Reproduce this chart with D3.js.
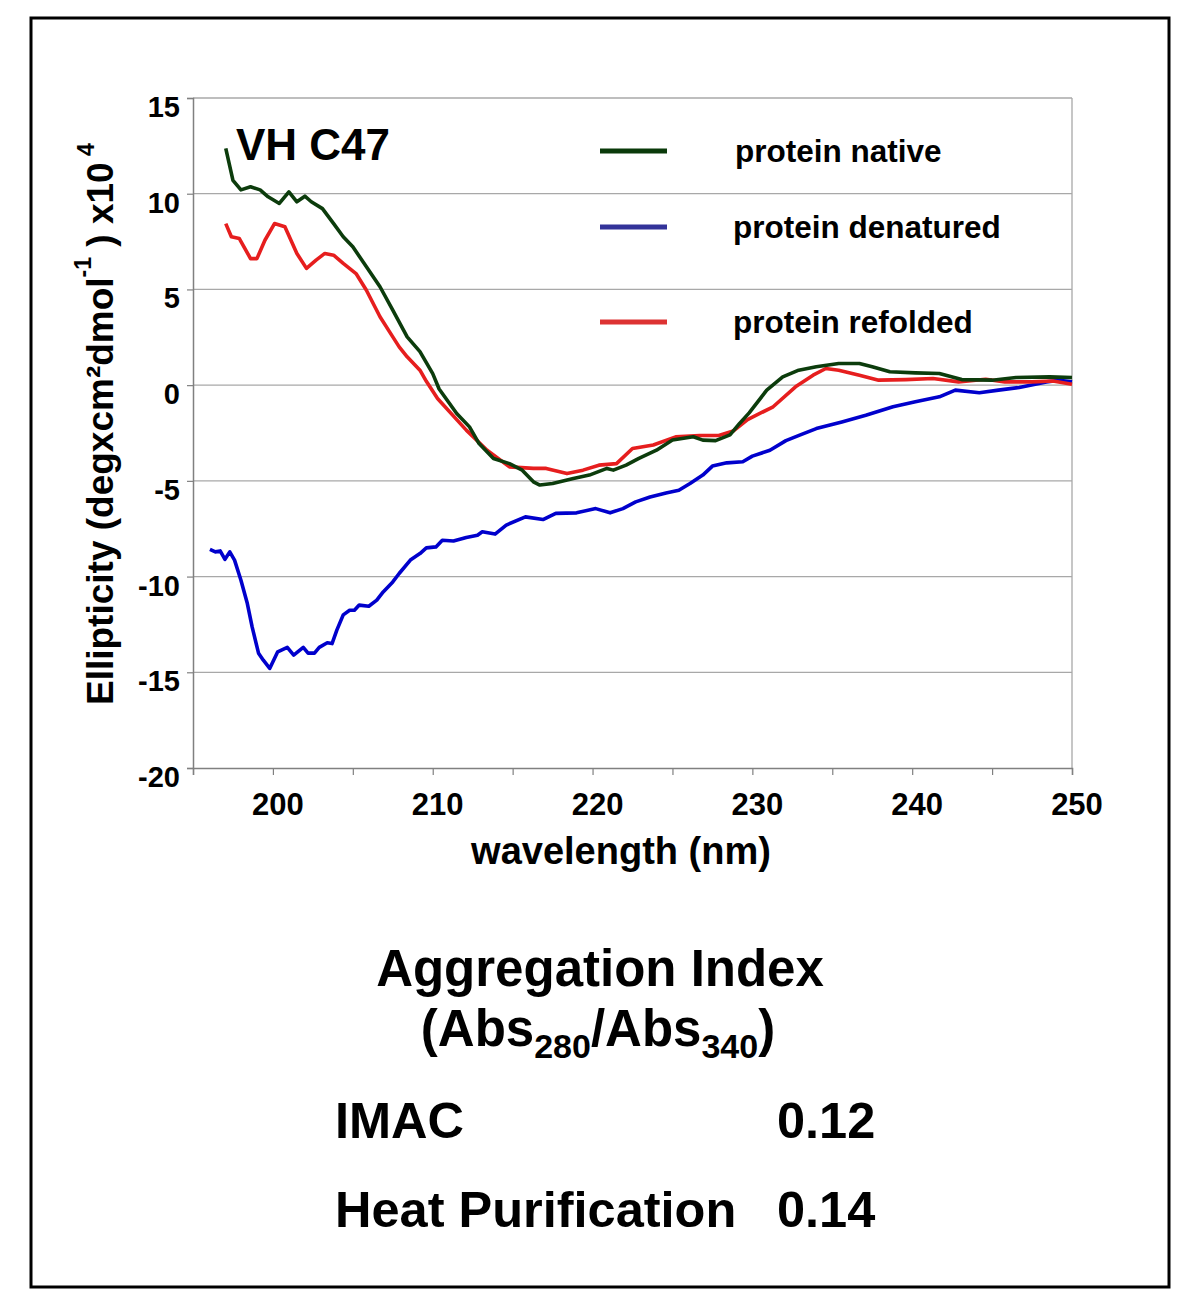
<!DOCTYPE html>
<html>
<head>
<meta charset="utf-8">
<script src="https://cdn.jsdelivr.net/npm/d3@7"></script>
<style>
  body { margin: 0; background: white; }
  svg text { font-family: "Liberation Sans", Arial, sans-serif; font-weight: bold; fill: black; }
</style>
</head>
<body>
<svg id="chart"></svg>
<script>
// wavelength (nm) / ellipticity (x10^4)
const nativeNm = [197.05, 197.5, 198.0, 198.6, 199.2, 199.7, 200.4, 201.0, 201.5, 202.0, 202.4, 203.1, 203.8, 204.4, 205.0, 205.85, 206.7, 207.5, 208.4, 209.2, 210.0, 210.4, 211.5, 212.3, 212.9, 213.8, 214.8, 215.6, 216.3, 216.7, 217.5, 218.8, 219.8, 220.9, 221.3, 222.1, 222.9, 224.0, 225.0, 226.3, 226.9, 227.7, 228.6, 229.2, 229.8, 230.9, 231.9, 232.9, 234.0, 235.4, 236.7, 237.5, 238.6, 240.2, 241.7, 243.1, 245.0, 246.5, 248.6, 250.0]
const nativeVal = [12.37, 10.7, 10.2, 10.36, 10.2, 9.84, 9.49, 10.1, 9.58, 9.87, 9.58, 9.22, 8.44, 7.75, 7.23, 6.18, 5.14, 3.92, 2.52, 1.75, 0.6, -0.2, -1.48, -2.18, -3.05, -3.83, -4.1, -4.44, -5.05, -5.22, -5.14, -4.88, -4.7, -4.35, -4.44, -4.18, -3.83, -3.4, -2.87, -2.7, -2.87, -2.9, -2.6, -2.0, -1.45, -0.26, 0.43, 0.78, 0.96, 1.13, 1.13, 0.96, 0.7, 0.64, 0.61, 0.29, 0.26, 0.4, 0.43, 0.4]

const denatNm = [196.06, 196.4, 196.7, 197.0, 197.3, 197.6, 198.0, 198.4, 198.7, 199.1, 199.4, 199.8, 200.3, 200.9, 201.3, 201.9, 202.2, 202.6, 202.9, 203.4, 203.7, 204.0, 204.4, 204.8, 205.1, 205.4, 206.0, 206.5, 206.9, 207.5, 207.9, 208.6, 209.2, 209.6, 210.2, 210.6, 211.3, 212.1, 212.8, 213.1, 213.9, 214.6, 215.8, 216.9, 217.7, 219.0, 220.2, 221.1, 221.9, 222.7, 223.6, 224.6, 225.4, 226.1, 226.9, 227.5, 228.4, 229.4, 230.0, 231.1, 232.1, 233.0, 234.0, 235.6, 237.1, 238.8, 240.2, 241.7, 242.7, 244.2, 245.4, 246.7, 248.4, 249.2, 250.0]
const denatVal = [-8.58, -8.71, -8.66, -9.1, -8.71, -9.14, -10.19, -11.41, -12.63, -14.0, -14.37, -14.8, -13.93, -13.7, -14.1, -13.7, -14.0, -14.0, -13.7, -13.46, -13.5, -12.8, -12.0, -11.76, -11.76, -11.49, -11.55, -11.23, -10.8, -10.28, -9.84, -9.14, -8.8, -8.5, -8.45, -8.1, -8.14, -7.96, -7.84, -7.66, -7.78, -7.31, -6.88, -7.02, -6.7, -6.67, -6.45, -6.67, -6.45, -6.1, -5.84, -5.63, -5.49, -5.14, -4.7, -4.23, -4.06, -4.0, -3.71, -3.4, -2.9, -2.6, -2.27, -1.92, -1.57, -1.13, -0.87, -0.61, -0.26, -0.4, -0.26, -0.12, 0.17, 0.26, 0.17]

const refoldNm = [197.05, 197.4, 197.9, 198.6, 199.0, 199.5, 200.1, 200.75, 201.5, 202.1, 202.7, 203.25, 203.8, 204.4, 205.2, 205.85, 206.7, 207.5, 207.9, 208.4, 209.2, 209.6, 210.3, 212.1, 213.4, 214.8, 216.3, 217.1, 218.4, 219.4, 220.4, 221.5, 222.5, 223.8, 225.2, 226.7, 227.9, 228.8, 229.7, 231.3, 232.7, 233.8, 234.6, 235.4, 236.7, 237.9, 239.6, 241.3, 242.9, 244.6, 245.8, 247.5, 248.8, 250.0]
const refoldVal = [8.44, 7.75, 7.66, 6.61, 6.61, 7.57, 8.44, 8.27, 6.88, 6.1, 6.53, 6.88, 6.79, 6.36, 5.83, 4.96, 3.57, 2.52, 2.0, 1.48, 0.78, 0.2, -0.7, -2.35, -3.4, -4.27, -4.35, -4.35, -4.62, -4.44, -4.18, -4.1, -3.31, -3.13, -2.7, -2.63, -2.63, -2.4, -1.8, -1.13, -0.09, 0.52, 0.87, 0.78, 0.52, 0.26, 0.29, 0.35, 0.17, 0.31, 0.17, 0.17, 0.22, 0.05]

const seriesNames = ["protein native", "protein denatured", "protein refolded"]
const xTicks = [195, 200, 205, 210, 215, 220, 225, 230, 235, 240, 245, 250]
const xLabels = [200, 210, 220, 230, 240, 250]
const yTicks = [15, 10, 5, 0, -5, -10, -15, -20]
const aggRows = ["IMAC", "Heat Purification"]
const aggValues = ["0.12", "0.14"]

const W = 1200, H = 1289
const plot = { left: 193, right: 1072, top: 98, bottom: 768 }
const lineColors = ["#0c3c0c", "#0000cc", "#e61e1e"]
const legendColors = ["#0a3a0a", "#333399", "#dd3333"]

const svg = d3.select("#chart").attr("width", W).attr("height", H)

// outer frame
svg.append("rect")
    .attr("x", 31).attr("y", 18)
    .attr("width", 1138).attr("height", 1269)
    .attr("fill", "white").attr("stroke", "black").attr("stroke-width", 3)

const x = d3.scaleLinear().domain([195, 250]).range([plot.left, plot.right])
const y = d3.scaleLinear().domain([-20, 15]).range([plot.bottom, plot.top])

// gridlines
svg.append("g").selectAll("line").data(yTicks.filter(d => d > -20)).enter().append("line")
    .attr("x1", plot.left).attr("x2", plot.right)
    .attr("y1", d => y(d)).attr("y2", d => y(d))
    .attr("stroke", "#a8a8a8").attr("stroke-width", 1.3)
// right border
svg.append("line")
    .attr("x1", plot.right).attr("x2", plot.right)
    .attr("y1", plot.top).attr("y2", plot.bottom)
    .attr("stroke", "#a8a8a8").attr("stroke-width", 1.3)

// axes
const yAxis = d3.axisLeft(y).tickValues(yTicks).tickSize(6).tickFormat("")
const yAxisG = svg.append("g").attr("transform", `translate(${plot.left},0)`).call(yAxis)
const xAxis = d3.axisBottom(x).tickValues(xTicks).tickSize(7).tickFormat("")
const xAxisG = svg.append("g").attr("transform", `translate(0,${plot.bottom})`).call(xAxis)
for (let g of [yAxisG, xAxisG]) {
    g.select(".domain").attr("stroke", "#808080").attr("stroke-width", 1.5)
    g.selectAll(".tick line").attr("stroke", "#808080").attr("stroke-width", 1.2)
}

// tick labels
svg.append("g").selectAll("text").data(yTicks).enter().append("text")
    .attr("x", 180).attr("y", d => y(d) + 19)
    .attr("text-anchor", "end")
    .style("font-size", "29px")
    .text(d => d)
svg.append("g").selectAll("text").data(xLabels).enter().append("text")
    .attr("x", d => x(d) + 5).attr("y", 815)
    .attr("text-anchor", "middle")
    .style("font-size", "31px")
    .text(d => d)

// axis titles
svg.append("text")
    .attr("x", 621).attr("y", 864)
    .attr("text-anchor", "middle")
    .style("font-size", "38px")
    .text("wavelength (nm)")

const yTitle = svg.append("text")
    .attr("transform", "translate(113,705) rotate(-90)")
    .style("font-size", "37px")
yTitle.append("tspan").text("Ellipticity (degxcm\u00b2dmol")
yTitle.append("tspan").attr("dy", -22).style("font-size", "23px").text("-1")
yTitle.append("tspan").attr("dy", 22).text(" ) x10")
yTitle.append("tspan").attr("dy", -19).style("font-size", "23px").text("\u00a04")

// curves
const line = d3.line().x(d => x(d[0])).y(d => y(d[1]))
const curves = [
    d3.zip(nativeNm, nativeVal),
    d3.zip(denatNm, denatVal),
    d3.zip(refoldNm, refoldVal)
]
// blue first, then red, green on top
for (let i of [1, 2, 0]) {
    svg.append("path")
        .datum(curves[i])
        .attr("d", line)
        .attr("fill", "none")
        .attr("stroke", lineColors[i])
        .attr("stroke-width", 3.6)
        .attr("stroke-linejoin", "round")
}

// sample label
svg.append("text")
    .attr("x", 236).attr("y", 160)
    .style("font-size", "44px")
    .text("VH C47")

// legend
const legendY = [151, 227, 322]
const legend = svg.append("g").selectAll("g").data(seriesNames).enter().append("g")
legend.append("line")
    .attr("x1", 600).attr("x2", 667)
    .attr("y1", (d, i) => legendY[i]).attr("y2", (d, i) => legendY[i])
    .attr("stroke", (d, i) => legendColors[i])
    .attr("stroke-width", 5)
legend.append("text")
    .attr("x", (d, i) => i == 0 ? 735 : 733)
    .attr("y", (d, i) => legendY[i] + 11)
    .style("font-size", "31.5px")
    .text(d => d)

// aggregation index block
svg.append("text")
    .attr("x", 600).attr("y", 986)
    .attr("text-anchor", "middle")
    .style("font-size", "51px")
    .text("Aggregation Index")
const sub = svg.append("text")
    .attr("x", 598).attr("y", 1046)
    .attr("text-anchor", "middle")
    .style("font-size", "51px")
sub.append("tspan").text("(Abs")
sub.append("tspan").attr("dy", 12).style("font-size", "34px").text("280")
sub.append("tspan").attr("dy", -12).text("/Abs")
sub.append("tspan").attr("dy", 12).style("font-size", "34px").text("340")
sub.append("tspan").attr("dy", -12).text(")")

const rowY = [1138, 1227]
svg.append("g").selectAll("text").data(aggRows).enter().append("text")
    .attr("x", 335).attr("y", (d, i) => rowY[i])
    .style("font-size", "50.5px")
    .text(d => d)
svg.append("g").selectAll("text").data(aggValues).enter().append("text")
    .attr("x", 777).attr("y", (d, i) => rowY[i])
    .style("font-size", "50.5px")
    .text(d => d)
</script>
</body>
</html>
